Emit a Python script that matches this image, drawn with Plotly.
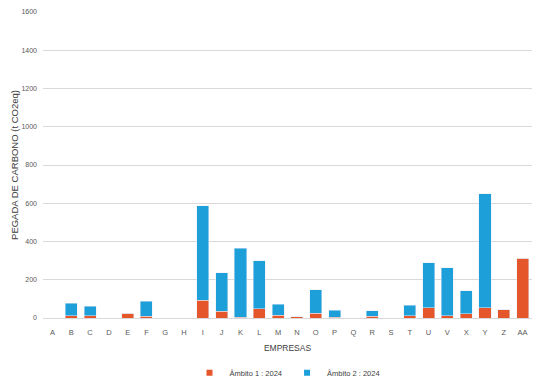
import plotly.graph_objects as go

empresas = ["A","B","C","D","E","F","G","H","I","J","K","L","M","N","O","P","Q","R","S","T","U","V","X","Y","Z","AA"]
ambito1 = [0, 12, 12, 0, 26, 10, 0, 0, 92, 35, 5, 48, 15, 7, 24, 3, 0, 8, 0, 12, 54, 12, 21, 54, 42, 312]
ambito2 = [0, 66, 50, 0, 0, 77, 0, 0, 496, 202, 360, 252, 58, 0, 123, 37, 0, 30, 0, 54, 235, 251, 121, 595, 0, 0]
y_ticks = [0, 200, 400, 600, 800, 1000, 1200, 1400, 1600]
nomes = ["Âmbito 1 : 2024", "Âmbito 2 : 2024"]
cores = ["#E5562A", "#1D9FDA"]

fonte = "Liberation Sans"

fig = go.Figure()
for vals, nome, cor in zip([ambito1, ambito2], nomes, cores):
    fig.add_trace(go.Bar(x=empresas, y=vals, name=nome, marker_color=cor, showlegend=False))
# legend entries with small square symbols
for nome, cor in zip(nomes, cores):
    fig.add_trace(go.Scatter(x=[None], y=[None], mode="markers", name=nome,
                             marker=dict(symbol="square", size=6, color=cor)))

fig.update_layout(
    width=536, height=391,
    barmode="stack", bargap=0.36,
    paper_bgcolor="white", plot_bgcolor="white",
    margin=dict(l=43, r=4, t=12, b=71),
    font=dict(family=fonte, size=7, color="#595959"),
    showlegend=True,
    legend=dict(orientation="h", x=0.5, xanchor="center", y=-0.179, yanchor="middle",
                font=dict(family=fonte, size=7.5, color="#404040"), itemwidth=30,
                traceorder="normal", tracegroupgap=0),
    xaxis=dict(title=dict(text="EMPRESAS", font=dict(family=fonte, size=8.5, color="#404040"), standoff=9),
               showgrid=False, showline=True, linecolor="#D9D9D9", linewidth=1, ticks="",
               ticklabelstandoff=7, automargin=False,
               tickfont=dict(family=fonte, size=7.5, color="#595959")),
    yaxis=dict(title=dict(text="PEGADA DE CARBONO (t CO2eq)", font=dict(family=fonte, size=9.5, color="#404040"), standoff=1),
               range=[0, 1600], tickvals=y_ticks, showgrid=True, gridcolor="#D9D9D9", gridwidth=1,
               zeroline=False, ticklabelstandoff=5, automargin=False,
               tickfont=dict(family=fonte, size=7, color="#595959"), ticks=""),
)

fig.write_html("out.html", config={"displayModeBar": False},
               post_script="document.body.style.margin='0';")
